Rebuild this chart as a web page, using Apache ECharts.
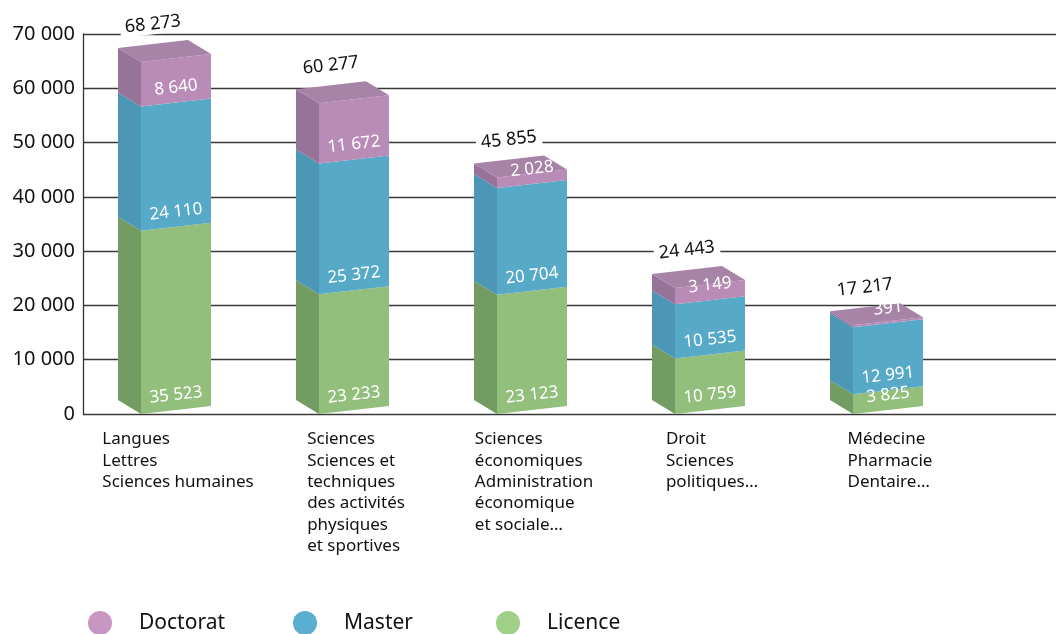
<!DOCTYPE html>
<html><head><meta charset="utf-8">
<script src="https://cdn.jsdelivr.net/npm/echarts@6/dist/echarts.min.js"></script>
<style>html,body{margin:0;padding:0;background:#fff}#c{width:1056px;height:634px}</style>
</head><body><div id="c"></div>
<script>
const categories = [
  'Langues\nLettres\nSciences humaines',
  'Sciences\nSciences et\ntechniques\ndes activités\nphysiques\net sportives',
  'Sciences\néconomiques\nAdministration\néconomique\net sociale…',
  'Droit\nSciences\npolitiques…',
  'Médecine\nPharmacie\nDentaire…'
];
const licence = [35523, 23233, 23123, 10759, 3825];
const master = [24110, 25372, 20704, 10535, 12991];
const doctorat = [8640, 11672, 2028, 3149, 391];
const totals = [68273, 60277, 45855, 24443, 17217];
const yTicks = [0, 10000, 20000, 30000, 40000, 50000, 60000, 70000];

const FONT = '"Noto Sans", "Open Sans", sans-serif';
const fmt = v => String(v).replace(/\B(?=(\d{3})+(?!\d))/g, ' ');

const palette = {
  Licence: {front: '#92bf7b', side: '#739c63', top: '#a3cc8c', legend: '#a0cf87'},
  Master: {front: '#57a9c8', side: '#4c97b5', top: '#6ab6d2', legend: '#5aaecf'},
  Doctorat: {front: '#b98bb7', side: '#97739a', top: '#a883a8', legend: '#c796c3'}
};

const W = 70, SLOPE = 8, DX = -23, DY = -14, ROT = Math.atan(SLOPE / W);
const CAT_FONT = '17px ' + FONT;
const mctx = document.createElement('canvas').getContext('2d');
mctx.font = CAT_FONT;
const blockWidth = s => Math.max(...s.split('\n').map(l => mctx.measureText(l).width));

function makeSeries(name, values, bases, isTop, isBottom) {
  const col = palette[name];
  const data = values.map((v, i) => [i, bases[i], v, totals[i]]);
  return {
    type: 'custom', name, xAxisIndex: 1, yAxisIndex: 1,
    itemStyle: {color: col.legend},
    data,
    z: 5,
    renderItem(params, api) {
      const i = api.value(0), base = api.value(1), val = api.value(2), tot = api.value(3);
      const pb = api.coord([i, base]);
      const pt = api.coord([i, base + val]);
      const fl = pb[0] - W / 2, fr = fl + W;
      const yb = pb[1], yt = pt[1];
      const children = [];
      children.push({type: 'polygon', shape: {points: [[fl, yb], [fl + DX, yb + DY], [fl + DX, yt + DY], [fl, yt]]},
        style: {fill: col.side}});
      children.push({type: 'polygon', shape: {points: [[fl, yb], [fr, yb - SLOPE], [fr, yt - SLOPE], [fl, yt]]},
        style: {fill: col.front}});
      if (isTop) {
        children.push({type: 'polygon', shape: {points: [[fl, yt], [fr, yt - SLOPE], [fr + DX, yt - SLOPE + DY], [fl + DX, yt + DY]]},
          style: {fill: col.top}});
        children.push({type: 'text', x: fl + DX + 2, y: yt + DY - 20, rotation: ROT,
          style: {text: fmt(tot), font: '18px ' + FONT, fill: '#111', align: 'left', verticalAlign: 'middle',
            backgroundColor: '#fff', padding: [1, 5]}, z2: 20});
      }
      children.push({type: 'text', x: fl + W / 2, y: yb - SLOPE / 2 - 15, rotation: ROT,
        style: {text: fmt(val), font: '17px ' + FONT, fill: '#fff', align: 'center', verticalAlign: 'middle'}, z2: 10});
      if (isBottom) {
        const bw = blockWidth(categories[i]);
        children.push({type: 'text', x: fl + W / 2 - bw / 2 + 2, y: yb + 15,
          style: {text: categories[i], font: CAT_FONT, fill: '#111', align: 'left', verticalAlign: 'top', lineHeight: 21.3}});
      }
      return {type: 'group', children};
    }
  };
}

const zeros = licence.map(() => 0);
const mBase = licence.slice();
const dBase = licence.map((v, i) => v + master[i]);

const chart = echarts.init(document.getElementById('c'));
chart.setOption({
  animation: false,
  textStyle: {fontFamily: FONT},
  grid: [
    {left: 83, right: 0, top: 34, bottom: 220},
    {left: 87, width: 890, top: 34, bottom: 220}
  ],
  xAxis: [
    {type: 'value', gridIndex: 0, show: false, min: 0, max: 1},
    {type: 'category', gridIndex: 1, data: categories, show: false}
  ],
  yAxis: [
    {type: 'value', gridIndex: 0, min: 0, max: 70000, interval: 10000,
      axisLine: {show: true, lineStyle: {color: '#333', width: 1.3}},
      axisTick: {show: false},
      splitLine: {show: true, lineStyle: {color: '#383838', width: 1.4}},
      axisLabel: {fontSize: 20, color: '#111', margin: 8, fontFamily: FONT,
        formatter: v => yTicks.includes(v) ? fmt(v) : ''}},
    {type: 'value', gridIndex: 1, min: 0, max: 73700, show: false}
  ],
  legend: [
    {data: ['Doctorat'], left: 88, top: 611},
    {data: ['Master'], left: 293, top: 611},
    {data: ['Licence'], left: 496, top: 611}
  ].map(l => Object.assign(l, {icon: 'circle', itemWidth: 24, itemHeight: 24, padding: 0,
    textStyle: {fontSize: 21, color: '#111', fontFamily: FONT, padding: [3, 0, 0, 22]}})),
  series: [
    makeSeries('Licence', licence, zeros, false, true),
    makeSeries('Master', master, mBase, false, false),
    makeSeries('Doctorat', doctorat, dBase, true, false)
  ]
});
</script></body></html>
